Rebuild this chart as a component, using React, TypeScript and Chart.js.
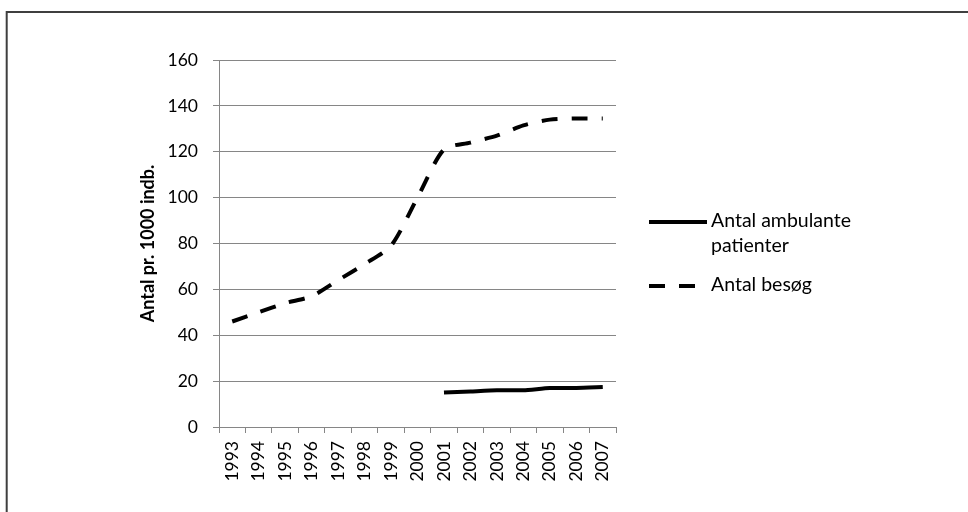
import React, { useEffect, useRef } from "react";
import { Chart, registerables } from "chart.js";

Chart.register(...registerables);

// Years on the x axis
const years = [
  "1993", "1994", "1995", "1996", "1997", "1998", "1999", "2000",
  "2001", "2002", "2003", "2004", "2005", "2006", "2007",
];

// Outpatients per 1000 inhabitants (recorded from 2001)
const ambulantePatienter = [
  null, null, null, null, null, null, null, null,
  15, 15.5, 16, 16, 17, 17, 17.4,
];

// Visits per 1000 inhabitants
const besoeg = [
  46, 50, 54, 57, 64, 71, 79, 100, 121, 124, 127, 131.5, 134, 134.5, 134.5,
];

const yTitle = "Antal pr. 1000 indb.";
const legendLabels = [["Antal ambulante", "patienter"], ["Antal besøg"]];

const W = 968;
const H = 512;
const DASH = [16, 14];

const framePlugin = {
  id: "frame",
  beforeDraw(chart: any) {
    const ctx = chart.ctx;
    ctx.save();
    ctx.fillStyle = "#ffffff";
    ctx.fillRect(0, 0, W, H);
    ctx.strokeStyle = "#3f3f3f";
    ctx.lineWidth = 2;
    ctx.beginPath();
    ctx.moveTo(6.7, H + 5);
    ctx.lineTo(6.7, 12);
    ctx.lineTo(W + 5, 12);
    ctx.stroke();
    ctx.restore();
  },
};

const sideLegendPlugin = {
  id: "sideLegend",
  afterDraw(chart: any) {
    const ctx = chart.ctx;
    const x0 = 649;
    const sampleLen = 58;
    const textX = 711;
    const rows = [222, 286];
    ctx.save();
    ctx.font = "19.5px Lato";
    ctx.textBaseline = "middle";
    ctx.textAlign = "left";
    chart.data.datasets.forEach((ds: any, i: number) => {
      const y = rows[i];
      ctx.strokeStyle = ds.borderColor;
      ctx.lineWidth = ds.borderWidth;
      ctx.lineCap = "butt";
      ctx.setLineDash(ds.borderDash || []);
      ctx.beginPath();
      ctx.moveTo(x0, y);
      ctx.lineTo(x0 + sampleLen - (ds.borderDash ? 10 : 0), y);
      ctx.stroke();
      ctx.setLineDash([]);
      ctx.fillStyle = "#000000";
      legendLabels[i].forEach((line, j) => {
        ctx.fillText(line, textX, y - 1 + j * 25);
      });
    });
    ctx.restore();
  },
};

export default function App() {
  const ref = useRef<HTMLCanvasElement>(null);

  useEffect(() => {
    if (!ref.current) return;
    const chart = new Chart(ref.current, {
      type: "line",
      data: {
        labels: years,
        datasets: [
          {
            label: "Antal ambulante patienter",
            data: ambulantePatienter,
            borderColor: "#000000",
            backgroundColor: "#000000",
            borderWidth: 4,
            pointRadius: 0,
            tension: 0.2,
            spanGaps: false,
          },
          {
            label: "Antal besøg",
            data: besoeg,
            borderColor: "#000000",
            backgroundColor: "#000000",
            borderWidth: 4,
            borderDash: DASH,
            pointRadius: 0,
            tension: 0.25,
          },
        ],
      },
      options: {
        responsive: false,
        animation: false,
        devicePixelRatio: 1,
        layout: { padding: { left: 137, right: 352, top: 60, bottom: 10 } },
        plugins: {
          legend: { display: false },
          tooltip: { enabled: false },
        },
        scales: {
          x: {
            offset: true,
            grid: {
              offset: true,
              drawOnChartArea: false,
              drawTicks: true,
              tickLength: 6,
              color: "#868686",
            },
            border: { color: "#868686", width: 1 },
            ticks: {
              color: "#000000",
              font: { family: "Lato", size: 17.5 },
              maxRotation: 90,
              minRotation: 90,
              padding: 8,
              autoSkip: false,
            },
            afterFit(scale: any) {
              scale.height = 75;
            },
          },
          y: {
            min: 0,
            max: 160,
            ticks: {
              stepSize: 20,
              color: "#000000",
              font: { family: "Lato", size: 17.5 },
              padding: 15,
            },
            grid: {
              color: "#868686",
              tickLength: 6,
            },
            border: { color: "#868686", width: 1 },
            title: {
              display: true,
              text: yTitle,
              color: "#000000",
              font: { family: "Lato", size: 18, weight: "bold" },
              padding: 0,
            },
            afterFit(scale: any) {
              scale.width = 82;
            },
          },
        },
      },
      plugins: [framePlugin, sideLegendPlugin],
    });
    return () => chart.destroy();
  }, []);

  return (
    <div style={{ position: "absolute", left: 0, top: 0, width: W, height: H, overflow: "hidden" }}>
      <canvas ref={ref} width={W} height={H} style={{ display: "block" }} />
    </div>
  );
}
